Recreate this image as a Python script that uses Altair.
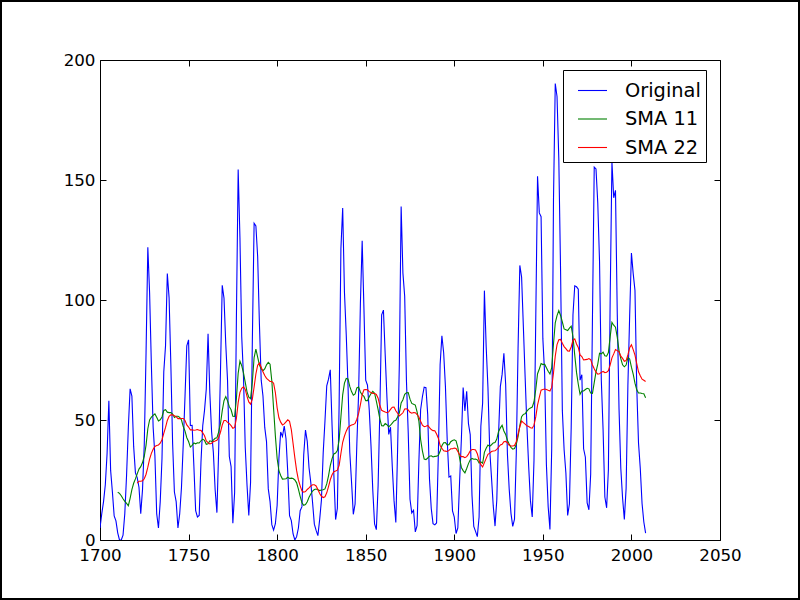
import altair as alt
import pandas as pd

years = list(range(1700, 2009))
sunspots = [
    5.0, 11.0, 16.0, 23.0, 36.0, 58.0, 29.0, 20.0, 10.0, 8.0,
    3.0, 0.0, 0.0, 2.0, 11.0, 27.0, 47.0, 63.0, 60.0, 39.0,
    28.0, 26.0, 22.0, 11.0, 21.0, 40.0, 78.0, 122.0, 103.0, 73.0,
    47.0, 35.0, 11.0, 5.0, 16.0, 34.0, 70.0, 81.0, 111.0, 101.0,
    73.0, 40.0, 20.0, 16.0, 5.0, 11.0, 22.0, 40.0, 60.0, 80.9,
    83.4, 47.7, 47.8, 30.7, 12.2, 9.6, 10.2, 32.4, 47.6, 54.0,
    62.9, 85.9, 61.2, 45.1, 36.4, 20.9, 11.4, 37.8, 69.8, 106.1,
    100.8, 81.6, 66.5, 34.8, 30.6, 7.0, 19.8, 92.5, 154.4, 125.9,
    84.8, 68.1, 38.5, 22.8, 10.2, 24.1, 82.9, 132.0, 130.9, 118.1,
    89.9, 66.6, 60.0, 46.9, 41.0, 21.3, 16.0, 6.4, 4.1, 6.8,
    14.5, 34.0, 45.0, 43.1, 47.5, 42.2, 28.1, 10.1, 8.1, 2.5,
    0.0, 1.4, 5.0, 12.2, 13.9, 35.4, 45.8, 41.1, 30.1, 23.9,
    15.6, 6.6, 4.0, 1.8, 8.5, 16.6, 36.3, 49.6, 64.2, 67.0,
    70.9, 47.8, 27.5, 8.5, 13.2, 56.9, 121.5, 138.3, 103.2, 85.7,
    64.6, 36.7, 24.2, 10.7, 15.0, 40.1, 61.5, 98.5, 124.7, 96.3,
    66.6, 64.5, 54.1, 39.0, 20.6, 6.7, 4.3, 22.7, 54.8, 93.8,
    95.8, 77.2, 59.1, 44.0, 47.0, 30.5, 16.3, 7.3, 37.6, 74.0,
    139.0, 111.2, 101.6, 66.2, 44.7, 17.0, 11.3, 12.4, 3.4, 6.0,
    32.3, 54.3, 59.7, 63.7, 63.5, 52.2, 25.4, 13.1, 6.8, 6.3,
    7.1, 35.6, 73.0, 85.1, 78.0, 64.0, 41.8, 26.2, 26.7, 12.1,
    9.5, 2.7, 5.0, 24.4, 42.0, 63.5, 53.8, 62.0, 48.5, 43.9,
    18.6, 5.7, 3.6, 1.4, 9.6, 47.4, 57.1, 103.9, 80.6, 63.6,
    37.6, 26.1, 14.2, 5.8, 16.7, 44.3, 63.9, 69.0, 77.8, 64.9,
    35.7, 21.2, 11.1, 5.7, 8.7, 36.1, 79.7, 114.4, 109.6, 88.8,
    67.8, 47.5, 30.6, 16.3, 9.6, 33.2, 92.6, 151.6, 136.3, 134.7,
    83.9, 69.4, 31.5, 13.9, 4.4, 38.0, 141.7, 190.2, 184.8, 159.0,
    112.3, 53.9, 37.6, 27.9, 10.2, 15.1, 47.0, 93.8, 105.9, 105.5,
    104.5, 66.6, 68.9, 38.0, 34.5, 15.5, 12.6, 27.5, 92.5, 155.4,
    154.6, 140.4, 115.9, 66.6, 45.9, 17.9, 13.4, 29.4, 100.2, 157.6,
    142.6, 145.7, 94.3, 54.6, 29.9, 17.5, 8.6, 21.5, 64.3, 93.3,
    119.6, 111.0, 104.0, 63.7, 40.4, 29.8, 15.2, 7.5, 2.9,
]
series_names = ["Original", "SMA 11", "SMA 22"]
series_colors = ["#0000ff", "#008000", "#ff0000"]
x_ticks = [1700, 1750, 1800, 1850, 1900, 1950, 2000, 2050]
y_ticks = [0, 50, 100, 150, 200]

df = pd.DataFrame({"year": years, "Original": sunspots})

FONT = "DejaVu Sans"
TICK = 6

base = (
    alt.Chart(df)
    .transform_window(sma11="mean(Original)", c11="count()", frame=[-10, 0],
                      sort=[alt.SortField("year")])
    .transform_window(sma22="mean(Original)", c22="count()", frame=[-21, 0],
                      sort=[alt.SortField("year")])
    .transform_calculate(**{
        "SMA 11": "datum.c11 == 11 ? datum.sma11 : null",
        "SMA 22": "datum.c22 == 22 ? datum.sma22 : null",
    })
    .transform_fold(series_names, as_=["series", "val"])
    .transform_filter("datum.val != null")
)

xscale = alt.Scale(domain=[1700, 2050], nice=False, zero=False)
yscale = alt.Scale(domain=[0, 200], nice=False)

lines = base.mark_line(strokeWidth=1.1, clip=True).encode(
    x=alt.X("year:Q", scale=xscale, title=None,
            axis=alt.Axis(orient="bottom", values=x_ticks, format="d", offset=-TICK,
                          tickSize=TICK, tickColor="black", domain=False, grid=False,
                          labelPadding=7, labelFontSize=16.7, labelFont=FONT,
                          labelColor="black", labelFlush=False)),
    y=alt.Y("val:Q", scale=yscale, title=None,
            axis=alt.Axis(orient="left", values=y_ticks, offset=-TICK,
                          tickSize=TICK, tickColor="black", domain=False, grid=False,
                          labelPadding=5, labelFontSize=16.7, labelFont=FONT,
                          labelColor="black", labelFlush=False)),
    color=alt.Color("series:N",
                    scale=alt.Scale(domain=series_names, range=series_colors),
                    legend=alt.Legend(title=None, orient="none", legendX=463, legendY=10,
                                      symbolType="stroke", symbolSize=841,
                                      symbolStrokeWidth=1.1, symbolOffset=9,
                                      labelFontSize=19.4, labelFont=FONT,
                                      labelColor="black", labelOffset=17,
                                      rowPadding=3.5, padding=5,
                                      strokeColor="black", fillColor="white",
                                      cornerRadius=0)),
)

ghost = base.mark_line(opacity=0).encode(
    x=alt.X("year:Q", scale=xscale, title=None,
            axis=alt.Axis(orient="top", values=x_ticks, offset=-TICK, tickSize=TICK,
                          tickColor="black", domain=False, grid=False, labels=False)),
    y=alt.Y("val:Q", scale=yscale, title=None,
            axis=alt.Axis(orient="right", values=y_ticks, offset=-TICK, tickSize=TICK,
                          tickColor="black", domain=False, grid=False, labels=False)),
)

border = alt.Chart(alt.Data(values=[{}])).mark_rect(
    fill=None, stroke="black", strokeWidth=2
).encode(
    x=alt.value(-99), x2=alt.value(699), y=alt.value(-59), y2=alt.value(539)
)

chart = (
    alt.layer(ghost, lines, border)
    .resolve_axis(x="independent", y="independent")
    .properties(width=620, height=480,
                autosize=alt.AutoSizeParams(type="none"),
                padding={"left": 100, "top": 60, "right": 80, "bottom": 60},
                background="white")
    .configure_view(stroke="black", strokeWidth=1)
)

chart.save("out.html", embed_options={"renderer": "svg", "actions": False})
